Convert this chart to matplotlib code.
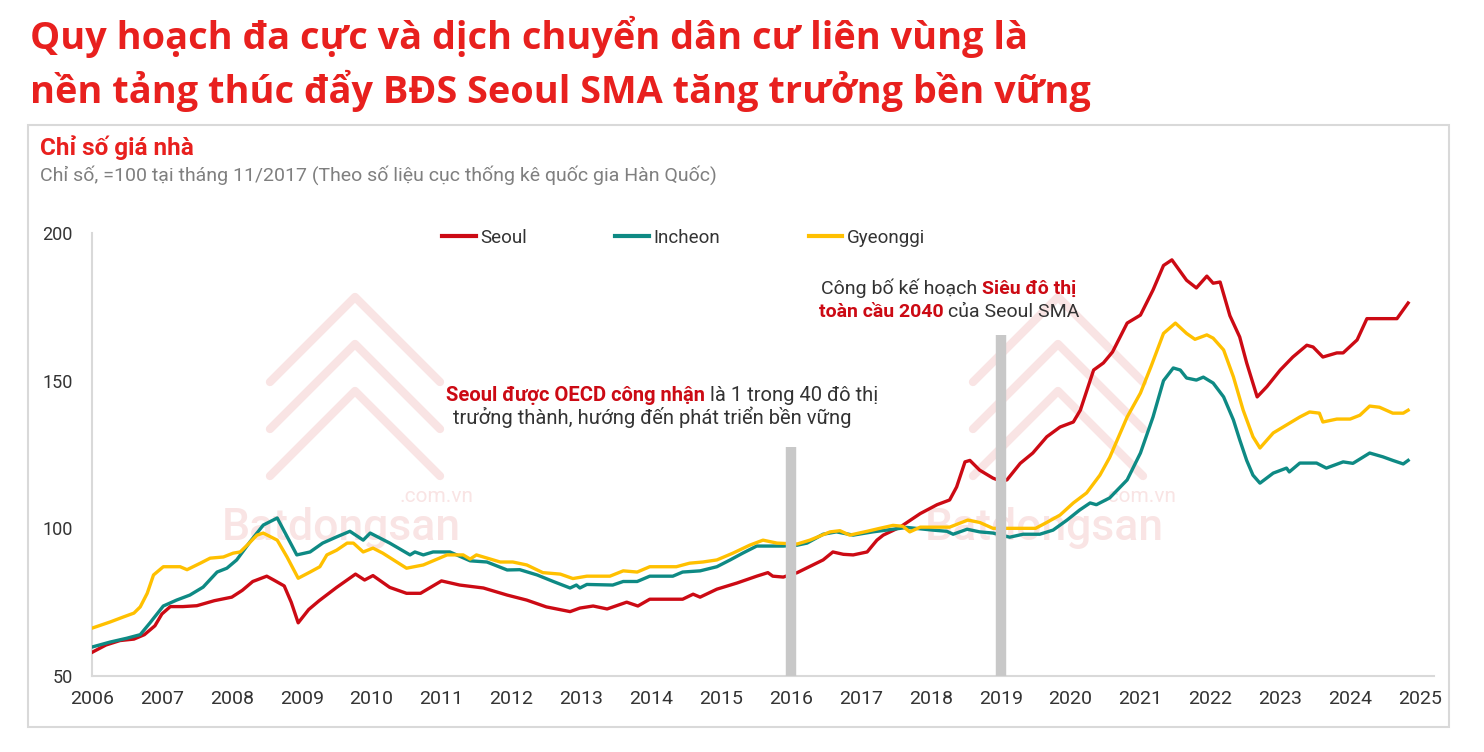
import matplotlib
matplotlib.use("Agg")
import matplotlib.pyplot as plt
from matplotlib.lines import Line2D
from matplotlib.patches import Rectangle

plt.rcParams['font.family'] = ['Roboto', 'DejaVu Sans']

# --- dữ liệu (chỉ số, =100 tại 11/2017) ---
years_seoul = [2006.0, 2006.2, 2006.4, 2006.6, 2006.75, 2006.9, 2007.0, 2007.12, 2007.3, 2007.5,
               2007.75, 2008.0, 2008.15, 2008.3, 2008.5, 2008.6, 2008.75, 2008.85, 2008.95, 2009.1,
               2009.25, 2009.5, 2009.77, 2009.9, 2010.02, 2010.26, 2010.5, 2010.7, 2011.0, 2011.26,
               2011.6, 2011.94, 2012.22, 2012.5, 2012.84, 2012.98, 2013.17, 2013.37, 2013.65, 2013.81,
               2013.98, 2014.45, 2014.6, 2014.7, 2014.94, 2015.23, 2015.51, 2015.67, 2015.74, 2015.89,
               2016.09, 2016.46, 2016.6, 2016.75, 2016.89, 2017.09, 2017.23, 2017.32, 2017.56, 2017.85,
               2018.09, 2018.27, 2018.37, 2018.49, 2018.56, 2018.7, 2018.89, 2019.0, 2019.09, 2019.28,
               2019.46, 2019.66, 2019.85, 2020.04, 2020.14, 2020.33, 2020.47, 2020.6, 2020.81, 2021.0,
               2021.18, 2021.33, 2021.45, 2021.66, 2021.8, 2021.95, 2022.04, 2022.14, 2022.28, 2022.42,
               2022.52, 2022.67, 2022.81, 2023.0, 2023.18, 2023.38, 2023.47, 2023.61, 2023.81, 2023.9,
               2024.1, 2024.24, 2024.67, 2024.83]
seoul = [58, 60.5, 62, 62.5, 64, 67, 71, 73.5, 73.5, 73.8,
         75.5, 76.7, 79, 82, 83.8, 82.5, 80.5, 75, 68, 72.5,
         75.5, 80, 84.5, 82.5, 84, 80, 78, 78, 82.2, 80.8,
         79.8, 77.4, 75.7, 73.4, 71.8, 73, 73.7, 72.7, 75, 73.7,
         76, 76, 77.7, 76.7, 79.4, 81.5, 83.8, 85, 83.8, 83.5,
         85, 89.3, 92, 91.2, 91, 92, 96, 97.7, 100.4, 105,
         108, 109.6, 114, 122.5, 123, 119.7, 117, 116, 116.4, 122,
         125.5, 131, 134.3, 136, 140, 153.6, 156, 159.7, 169.5, 172.2,
         180.7, 189, 190.9, 184, 181.4, 185.4, 183, 183.4, 172, 164.8,
         156, 144.5, 148, 153.6, 158, 162, 161.4, 158, 159.4, 159.4,
         163.8, 171, 171, 176.3]

years_incheon = [2006.0, 2006.26, 2006.5, 2006.69, 2006.83, 2007.02, 2007.21, 2007.4, 2007.59, 2007.79,
                 2007.93, 2008.07, 2008.26, 2008.45, 2008.65, 2008.93, 2009.12, 2009.3, 2009.5, 2009.69,
                 2009.88, 2009.98, 2010.26, 2010.55, 2010.62, 2010.74, 2010.88, 2011.12, 2011.41, 2011.65,
                 2011.94, 2012.12, 2012.37, 2012.6, 2012.84, 2012.93, 2012.98, 2013.08, 2013.45, 2013.6,
                 2013.8, 2013.98, 2014.31, 2014.45, 2014.7, 2014.94, 2015.13, 2015.31, 2015.51, 2015.89,
                 2016.09, 2016.23, 2016.46, 2016.65, 2016.89, 2017.17, 2017.66, 2018.03, 2018.23, 2018.32,
                 2018.52, 2018.7, 2018.89, 2019.13, 2019.32, 2019.56, 2019.75, 2019.95, 2020.13, 2020.28,
                 2020.37, 2020.56, 2020.81, 2021.0, 2021.18, 2021.33, 2021.47, 2021.57, 2021.66, 2021.8,
                 2021.9, 2022.04, 2022.19, 2022.33, 2022.42, 2022.52, 2022.61, 2022.71, 2022.9, 2023.09,
                 2023.13, 2023.28, 2023.52, 2023.66, 2023.9, 2024.04, 2024.28, 2024.47, 2024.61, 2024.76,
                 2024.83]
incheon = [59.8, 61.5, 62.8, 64, 68, 73.7, 75.7, 77.4, 80.1, 85.2,
           86.5, 89.3, 95.4, 101.1, 103.5, 91, 92, 95, 97.1, 99,
           96, 98.4, 95, 91, 92, 91, 92, 92, 89, 88.6,
           85.9, 86, 84.2, 82, 79.8, 80.8, 79.8, 81, 80.8, 82,
           82, 83.8, 83.8, 85.2, 85.6, 87, 89.3, 91.6, 94, 94,
           94.3, 95, 98, 98.8, 97.7, 98.8, 100.3, 99.4, 99, 98,
           99.7, 98.8, 98.4, 97, 98, 98, 99.4, 102.8, 106.2, 108.6,
           108, 110.3, 116.4, 125.5, 137.7, 150, 154.3, 153.6, 150.9, 150.2,
           151.2, 149.2, 144.5, 136.7, 130, 123, 118, 115.3, 118.7, 120.4,
           119.1, 122.1, 122.1, 120.4, 122.5, 122, 125.5, 124.2, 123, 121.8,
           123]

years_gyeonggi = [2006.0, 2006.26, 2006.45, 2006.6, 2006.69, 2006.79, 2006.88, 2007.02, 2007.26, 2007.36,
                  2007.55, 2007.69, 2007.88, 2008.02, 2008.12, 2008.22, 2008.36, 2008.45, 2008.65, 2008.79,
                  2008.95, 2009.12, 2009.26, 2009.36, 2009.5, 2009.65, 2009.74, 2009.88, 2010.02, 2010.16,
                  2010.5, 2010.74, 2011.08, 2011.31, 2011.41, 2011.5, 2011.84, 2012.02, 2012.22, 2012.45,
                  2012.7, 2012.88, 2013.08, 2013.41, 2013.6, 2013.8, 2013.98, 2014.36, 2014.55, 2014.74,
                  2014.94, 2015.17, 2015.41, 2015.6, 2015.8, 2016.09, 2016.27, 2016.56, 2016.7, 2016.84,
                  2017.09, 2017.27, 2017.46, 2017.6, 2017.7, 2017.85, 2018.27, 2018.53, 2018.7, 2018.89,
                  2019.33, 2019.5, 2019.66, 2019.85, 2020.04, 2020.23, 2020.42, 2020.56, 2020.81, 2021.0,
                  2021.15, 2021.33, 2021.5, 2021.66, 2021.78, 2021.95, 2022.04, 2022.19, 2022.33, 2022.47,
                  2022.61, 2022.71, 2022.9, 2023.09, 2023.28, 2023.42, 2023.56, 2023.61, 2023.81, 2024.0,
                  2024.14, 2024.28, 2024.42, 2024.61, 2024.76, 2024.83]
gyeonggi = [66.2, 68.3, 70, 71.3, 73.4, 78, 84.2, 87, 87, 86,
            88.2, 89.9, 90.3, 91.6, 92, 94.3, 97.7, 98.4, 96, 90.3,
            83.1, 85.2, 87, 91, 92.6, 95, 95, 92, 93.3, 91.6,
            86.5, 87.6, 91, 91, 89.6, 91, 88.6, 88.6, 87.6, 85,
            84.5, 83, 83.8, 83.8, 85.6, 85.2, 87, 87, 88.2, 88.6,
            89.3, 91.6, 94.3, 96, 95, 94.7, 96, 98.8, 99.2, 97.7,
            99, 100, 101, 100.7, 98.8, 100.4, 100.4, 102.8, 102, 100,
            100, 100, 102, 104.5, 108.6, 112, 118, 124, 137.7, 145.8,
            154.7, 166, 169.5, 166, 164, 165.5, 164.4, 160.4, 151.3, 140,
            131, 127.2, 132.3, 135, 137.7, 139.4, 139, 136, 137, 137,
            138.3, 141.4, 141, 139, 139, 140]

series_names = ['Seoul', 'Incheon', 'Gyeonggi']
series_colors = ['#cc0a14', '#0e8a84', '#ffc000']
year_ticks = list(range(2006, 2026))
value_ticks = [50, 100, 150, 200]

# mốc sự kiện (năm, đỉnh thanh xám)
event_years = [2016, 2019]
event_tops = [127.5, 165.5]

W, H = 1484, 752
fig = plt.figure(figsize=(W / 100, H / 100), dpi=100)
fig.patch.set_facecolor('white')

RED = '#e8201e'
DARK = '#333333'


def fx(px):
    return px / W


def fy(py):
    return 1 - py / H


def rich_line(cx, base_y, parts, size):
    # ghép nhiều đoạn chữ khác màu/độ đậm trên cùng một dòng, căn giữa tại cx
    r = fig.canvas.get_renderer()
    probe1 = fig.text(0, 0, 'x x', fontsize=size)
    probe2 = fig.text(0, 0, 'xx', fontsize=size)
    gap = probe1.get_window_extent(r).width - probe2.get_window_extent(r).width
    probe1.remove()
    probe2.remove()
    texts = []
    for s, color, weight in parts:
        texts.append(fig.text(0, fy(base_y), s, color=color, fontweight=weight,
                              fontsize=size, va='baseline', ha='left'))
    widths = [t.get_window_extent(r).width for t in texts]
    total = sum(widths) + gap * (len(texts) - 1)
    x = cx - total / 2
    for t, w in zip(texts, widths):
        t.set_x(fx(x))
        x += w + gap


# tiêu đề lớn
title_font = ['Open Sans', 'DejaVu Sans']
fig.text(fx(30), fy(49), 'Quy hoạch đa cực và dịch chuyển dân cư liên vùng là',
         fontsize=27.3, fontweight='bold', color=RED, family=title_font, va='baseline')
fig.text(fx(30), fy(103), 'nền tảng thúc đẩy BĐS Seoul SMA tăng trưởng bền vững',
         fontsize=27.3, fontweight='bold', color=RED, family=title_font, va='baseline')

# khung
fig.add_artist(Rectangle((fx(28), fy(727)), (1449 - 28) / W, (727 - 125) / H,
                         transform=fig.transFigure, facecolor='none', edgecolor='#d9d9d9', lw=1.5))
fig.text(fx(40), fy(155), 'Chỉ số giá nhà', fontsize=17.5, fontweight='bold', color=RED, va='baseline')
fig.text(fx(40), fy(181), 'Chỉ số, =100 tại tháng 11/2017 (Theo số liệu cục thống kê quốc gia Hàn Quốc)',
         fontsize=14, color='#7f7f7f', va='baseline')

# watermark mờ
WM = '#f9e4e4'
for dx in [0, 703]:
    fig.text(fx(222 + dx), fy(540), 'Batdongsan', fontsize=32, fontweight='medium', color=WM,
             va='baseline', zorder=-5)
    fig.text(fx(400 + dx), fy(502), '.com.vn', fontsize=15, color=WM, va='baseline', zorder=-5)
    cx = 355 + dx
    for k in range(3):
        top = 297 + 47 * k
        fig.add_artist(Line2D([fx(cx - 85), fx(cx), fx(cx + 85)], [fy(top + 85), fy(top), fy(top + 85)],
                              transform=fig.transFigure, color=WM, lw=6, solid_joinstyle='round',
                              solid_capstyle='round', zorder=-5))

ax = fig.add_axes([fx(92), fy(676), fx(1434 - 92), (676 - 233) / H])
ax.patch.set_visible(False)

all_years = [years_seoul, years_incheon, years_gyeonggi]
all_vals = [seoul, incheon, gyeonggi]
for yrs, vals, name, c in zip(all_years, all_vals, series_names, series_colors):
    ax.plot(yrs, vals, color=c, lw=2.4, label=name, solid_joinstyle='round', zorder=3)

ax.vlines(event_years, 50, event_tops, color='#c8c8c8', lw=7.5, zorder=4)

ax.set_xlim(2006, 2025.2)
ax.set_ylim(50, 200)
ax.set_xticks(year_ticks)
ax.set_xticklabels([str(y) for y in year_ticks])
ax.set_yticks(value_ticks)
ax.tick_params(axis='both', length=0, labelcolor=DARK)
ax.tick_params(axis='x', pad=10, labelsize=14)
ax.tick_params(axis='y', pad=14, labelsize=13)
for s in ['top', 'right']:
    ax.spines[s].set_visible(False)
for s in ['left', 'bottom']:
    ax.spines[s].set_color('#d9d9d9')
    ax.spines[s].set_linewidth(1.5)

leg = ax.legend(loc='center left', bbox_to_anchor=(fx(442), fy(238)), bbox_transform=fig.transFigure,
                ncol=3, frameon=False, fontsize=13.5, handlelength=1.8, handletextpad=0.25,
                columnspacing=4.7, borderpad=0, borderaxespad=0)
for t in leg.get_texts():
    t.set_color(DARK)
for h in leg.get_lines():
    h.set_linewidth(3)

fig.canvas.draw()
rich_line(662, 401, [('Seoul được OECD công nhận', '#cc0a14', 'bold'),
                     ('là 1 trong 40 đô thị', DARK, 'normal')], 14.5)
rich_line(652, 424, [('trưởng thành, hướng đến phát triển bền vững', DARK, 'normal')], 14.5)
rich_line(949, 294, [('Công bố kế hoạch', DARK, 'normal'),
                     ('Siêu đô thị', '#cc0a14', 'bold')], 14)
rich_line(949, 317, [('toàn cầu 2040', '#cc0a14', 'bold'),
                     ('của Seoul SMA', DARK, 'normal')], 14)

fig.savefig('out.png', dpi=100, facecolor='white')
